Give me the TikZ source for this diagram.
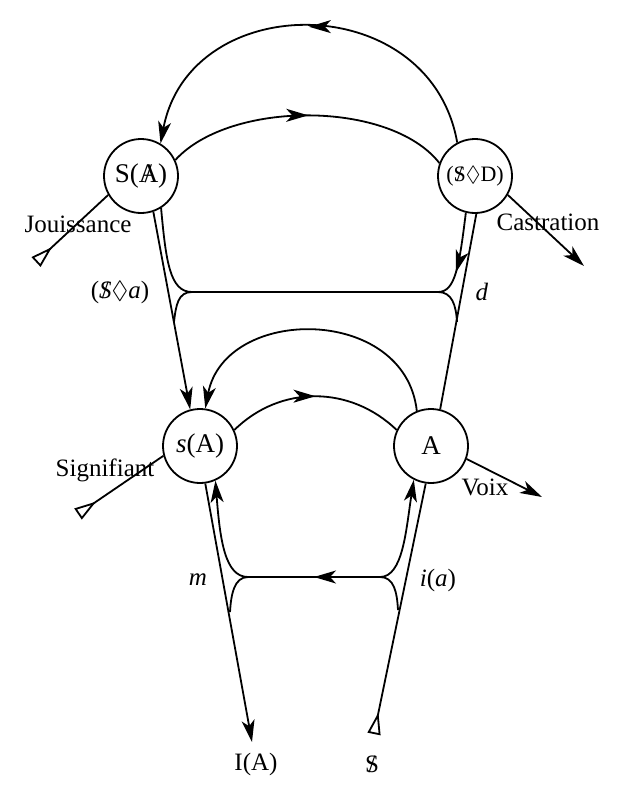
\documentclass[tikz,border=0pt]{standalone}
\usepackage{amssymb}
\usepackage{fontspec}
\setmainfont{Liberation Serif}
\usetikzlibrary{arrows.meta, decorations.markings}
\newcommand{\barred}[1]{\ooalign{#1\cr\hidewidth/\hidewidth\cr}}
\tikzstyle{point} = [circle, draw=black, line width=1.8pt, minimum size=74pt, inner sep=0pt, font=\fontsize{27}{30}\selectfont]
\tikzstyle{label} = [font=\fontsize{25}{28}\selectfont]
\tikzstyle{vec} = [line width=1.8pt, -{Stealth[length=22pt,width=13pt,inset=6pt]}]
\tikzstyle{start} = [line width=1.8pt, {Triangle[open,reversed,length=22pt,width=13pt,line width=1.8pt]}-]
\tikzstyle{mid} = [postaction={decorate}, decoration={markings, mark=at position #1 with {\arrow{Stealth[length=22pt,width=13pt,inset=6pt]}}}]
\begin{document}
\begin{tikzpicture}[x=1pt, y=-1pt, line width=1.8pt]
	\useasboundingbox (0,0) rectangle (624,800);

		% Draw the nodes
		\node (SA) [point] at (141,176) {S(\barred{A})};
		\node (SD) [point, font=\fontsize{22}{26}\selectfont] at (475,176) {(\barred{S}$\Diamond$D)};
		\node (sA) [point] at (200,446) {\textit{s}(A)};
		\node (A) [point] at (431,446) {A};
		\coordinate (jou) at (36,262);
		\coordinate (cas) at (584,266);
		\coordinate (sig) at (78,514);
		\coordinate (voix) at (542,497);
		\coordinate (IAend) at (252,742);
		\coordinate (Send) at (374,734);
		\node (IA) [label] at (256,764) {I(A)};
		\node (S) [label] at (372,764) {\barred{S}};
		\node [label] at (78,224) {Jouissance};
		\node [label] at (548,222) {Castration};
		\node [label] at (105,470) {Signifiant};
		\node [label] at (485,487) {Voix};
		\node [label] at (120,292) {(\barred{\textit{S}}$\Diamond$\textit{a})};
		\node [label] at (482,292) {\textit{d}};
		\node [label] at (198,580) {\textit{m}};
		\node [label] at (438,580) {\textit{i}(\textit{a})};

		% Upper level
		\draw [start, vec, mid=0.5] (SD.118) .. controls (430,-12) and (190,-12) .. (SA.59);
		\draw [mid=0.5] (SA.25) .. controls (230,100) and (390,100) .. (SD.160);
		\draw [start] (jou) -- (SA.-150);
		\draw [vec] (SD.-30) -- (cas);
		\draw [vec] (SA.-71) -- (sA.105);
		\draw (A.76) -- (SD.-88);
		\draw [mid=0.14] (SD.-104) .. controls (459,268) and (455,292) .. (438,292) -- (192,292) .. controls (170,292) and (166,262) .. (SA.-58);
		\draw (192,292) .. controls (178,292) and (176,305) .. (174,322);
		\draw (438,292) .. controls (452,292) and (456,305) .. (457,322);

		% Lower level
		\draw [start, vec] (A.112) .. controls (405,305) and (225,305) .. (sA.82);
		\draw [mid=0.5] (sA.25) .. controls (280,385) and (350,385) .. (A.155);
		\draw [start] (sig) -- (sA.-165);
		\draw [vec] (A.-20) -- (voix);
		\draw [vec] (sA.-82) -- (IAend);
		\draw [start] (Send) -- (A.-98);
		\draw [mid=0.5] (380,577) -- (248,577);
		\draw [vec] (248,577) .. controls (225,577) and (220,540) .. (sA.-66);
		\draw [vec] (380,577) .. controls (403,577) and (406,530) .. (A.-117);
		\draw (248,577) .. controls (234,577) and (231,595) .. (230,612);
		\draw (380,577) .. controls (394,577) and (397,592) .. (398,610);

	\end{tikzpicture}
\end{document}
